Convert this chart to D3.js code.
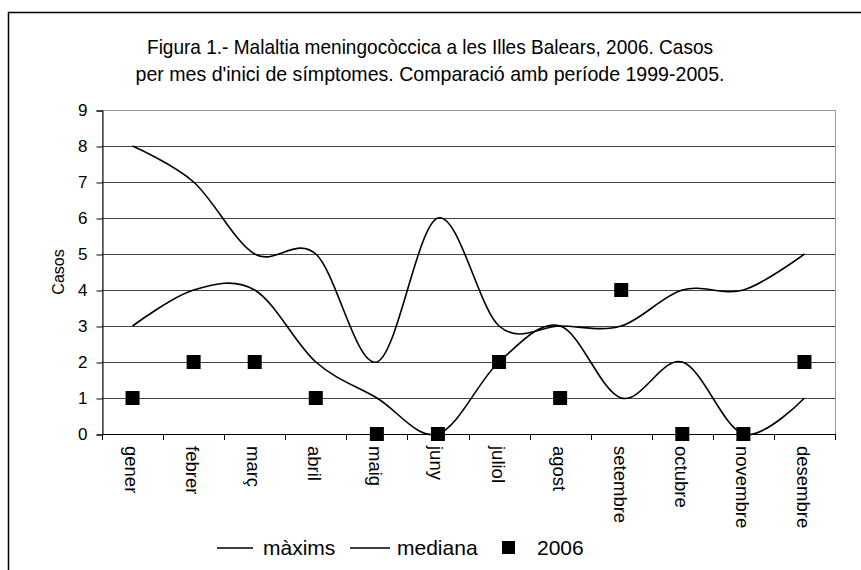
<html>
    <head>
        <meta charset="utf-8">
        <title>Malaltia meningocòccica</title>
        <style>
            body { margin: 0; background: #fff; }
            text { font-family: "Liberation Sans", Arial, sans-serif; fill: #000; }
        </style>
    </head>
    <body>
    </body>
    <script src="https://d3js.org/d3.v7.min.js"></script>
    <script>
        // dades
        var months = ['gener', 'febrer', 'març', 'abril', 'maig', 'juny', 'juliol', 'agost', 'setembre', 'octubre', 'novembre', 'desembre'];
        var maxims = [8, 7, 5, 5, 2, 6, 3, 3, 3, 4, 4, 5];
        var mediana = [3, 4, 4, 2, 1, 0, 2, 3, 1, 2, 0, 1];
        var casos2006 = [1, 2, 2, 1, 0, 0, 2, 1, 4, 0, 0, 2];
        var yTicks = [0, 1, 2, 3, 4, 5, 6, 7, 8, 9];
        var titleLines = ["Figura 1.- Malaltia meningocòccica a les Illes Balears, 2006. Casos",
                          "per mes d'inici de símptomes. Comparació amb període 1999-2005."];

        var width = 861;
        var height = 570;
        var plot = {left: 102, right: 835, top: 110, bottom: 434};

        var svg = d3.select('body')
            .append('svg')
            .attr('width', width)
            .attr('height', height);

        // marc exterior
        svg.append('rect')
            .attr('x', 8.5).attr('y', 12.5)
            .attr('width', 900).attr('height', 600)
            .attr('fill', 'none')
            .attr('stroke', '#000')
            .attr('stroke-width', 1.5);

        // títol (lletra estreta com l'original)
        var titleWidths = [566, 589];
        svg.selectAll('.title')
            .data(titleLines)
            .enter()
            .append('text')
            .attr('class', 'title')
            .attr('x', 430)
            .attr('y', function(d, i) { return 54 + i * 27; })
            .attr('text-anchor', 'middle')
            .attr('textLength', function(d, i) { return titleWidths[i]; })
            .attr('lengthAdjust', 'spacingAndGlyphs')
            .style('font-size', '21px')
            .text(function(d) { return d; });

        var xScale = d3.scaleBand()
            .domain(months)
            .range([plot.left, plot.right]);

        var yScale = d3.scaleLinear()
            .domain([0, 9])
            .range([plot.bottom, plot.top]);

        // vora de l'àrea del gràfic
        svg.append('rect')
            .attr('x', plot.left + 0.5).attr('y', plot.top + 0.5)
            .attr('width', plot.right - plot.left).attr('height', plot.bottom - plot.top)
            .attr('fill', 'none')
            .attr('stroke', '#999');

        // línies de quadrícula
        svg.selectAll('.grid')
            .data(yTicks.slice(1))
            .enter()
            .append('line')
            .attr('x1', plot.left)
            .attr('x2', plot.right)
            .attr('y1', function(d) { return Math.round(yScale(d)) + 0.5; })
            .attr('y2', function(d) { return Math.round(yScale(d)) + 0.5; })
            .attr('stroke', function(d) { return d == 9 ? '#999' : '#444'; })
            .attr('stroke-width', 1);

        // eix Y
        var yAxis = svg.append('g')
            .attr('transform', 'translate(' + (plot.left + 0.5) + ',0.5)')
            .call(d3.axisLeft(yScale).tickValues(yTicks).tickSize(6).tickPadding(9).tickFormat(d3.format('d')));
        yAxis.selectAll('text').style('font-size', '17px').attr('font-family', null);
        yAxis.selectAll('line, path').attr('stroke', '#000');

        svg.append('text')
            .attr('transform', 'translate(64,272) rotate(-90)')
            .attr('text-anchor', 'middle')
            .style('font-size', '16px')
            .text('Casos');

        // eix X
        var xEdges = months.map(function(m) { return xScale(m); }).concat([plot.right]);
        svg.append('line')
            .attr('x1', plot.left).attr('x2', plot.right)
            .attr('y1', plot.bottom + 0.5).attr('y2', plot.bottom + 0.5)
            .attr('stroke', '#000');
        svg.selectAll('.xtick')
            .data(xEdges)
            .enter()
            .append('line')
            .attr('x1', function(d) { return Math.round(d) + 0.5; })
            .attr('x2', function(d) { return Math.round(d) + 0.5; })
            .attr('y1', plot.bottom)
            .attr('y2', plot.bottom + 6)
            .attr('stroke', '#000');
        svg.selectAll('.xlabel')
            .data(months)
            .enter()
            .append('text')
            .attr('transform', function(d) {
                return 'translate(' + (xScale(d) + xScale.bandwidth() / 2 - 1) + ',446) rotate(90)';
            })
            .attr('dy', '0.35em')
            .style('font-size', '18.5px')
            .text(function(d) { return d; });

        // línies suavitzades
        var line = d3.line()
            .x(function(d, i) { return xScale(months[i]) + xScale.bandwidth() / 2; })
            .y(function(d) { return yScale(d); })
            .curve(d3.curveCatmullRom.alpha(0));

        [maxims, mediana].forEach(function(serie) {
            svg.append('path')
                .datum(serie)
                .attr('d', line)
                .attr('fill', 'none')
                .attr('stroke', '#000')
                .attr('stroke-width', 1.6);
        });

        // 2006
        var sq = 14;
        svg.selectAll('.punt')
            .data(casos2006)
            .enter()
            .append('rect')
            .attr('x', function(d, i) { return xScale(months[i]) + xScale.bandwidth() / 2 - sq / 2; })
            .attr('y', function(d) { return yScale(d) - sq / 2; })
            .attr('width', sq)
            .attr('height', sq)
            .attr('fill', '#000');

        // llegenda
        var legend = svg.append('g');
        legend.append('line').attr('x1', 217).attr('x2', 253).attr('y1', 548).attr('y2', 548)
            .attr('stroke', '#000').attr('stroke-width', 1.6);
        legend.append('text').attr('x', 263).attr('y', 555).style('font-size', '21px').text('màxims');
        legend.append('line').attr('x1', 350).attr('x2', 390).attr('y1', 548).attr('y2', 548)
            .attr('stroke', '#000').attr('stroke-width', 1.6);
        legend.append('text').attr('x', 397).attr('y', 555).style('font-size', '21px').text('mediana');
        legend.append('rect').attr('x', 502).attr('y', 541).attr('width', 13).attr('height', 13).attr('fill', '#000');
        legend.append('text').attr('x', 537).attr('y', 555).style('font-size', '21px').text('2006');
    </script>
</html>
